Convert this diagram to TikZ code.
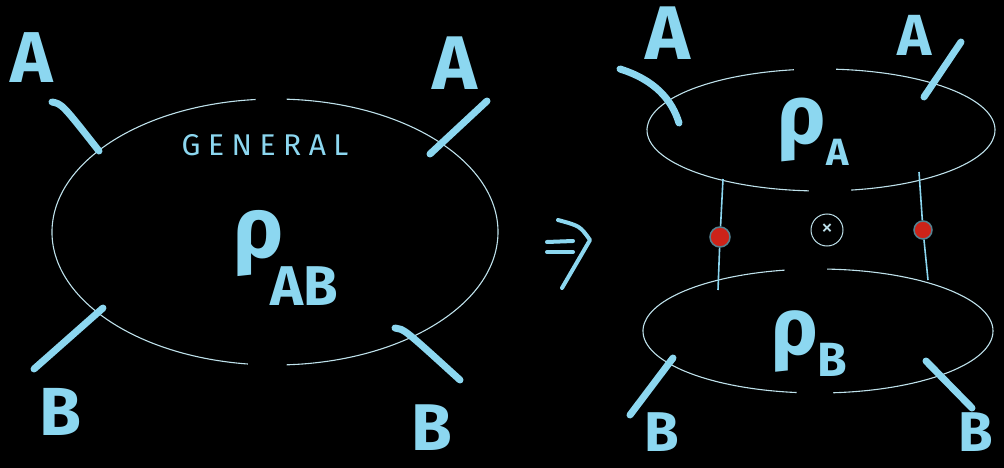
\documentclass[tikz,border=0pt]{standalone}
\usepackage{fontspec}
\setmainfont{Fira Sans}
\definecolor{sky}{RGB}{140,215,240}
\definecolor{rim}{RGB}{190,225,235}
\definecolor{dotred}{RGB}{205,35,25}
\tikzset{
  hand/.style={text=sky, inner sep=0pt, font=\bfseries\fontsize{#1}{#1}\selectfont},
  leg/.style={draw=sky, line width=7pt, line cap=round},
  rimline/.style={draw=rim, line width=1.1pt},
  reddot/.style={circle, fill=dotred, draw=sky!60!black, line width=1.5pt, minimum size=20pt, inner sep=0pt},
}
\begin{document}
\begin{tikzpicture}[x=1pt,y=-1pt]
        \fill[black] (0,0) rectangle (1004,468);

        % General state
        \coordinate (gen) at (275,232);
        \draw[rimline] (gen) ++(273:223 and 133) arc[start angle=273, end angle=447, x radius=223, y radius=133];
        \draw[rimline] (gen) ++(97:223 and 133) arc[start angle=97, end angle=265, x radius=223, y radius=133];
        \node[text=sky, inner sep=0pt, font=\fontsize{30}{30}\selectfont\addfontfeatures{LetterSpace=25}] (general) at (265,145) {GENERAL};
        \node[hand=86] (rhoAB) at (259,243) {ρ};
        \node[hand=56] (subAB) at (304,286) {AB};

        \draw[leg] (52,102) .. controls (62,104) .. (99,151);
        \draw[leg] (487,101) -- (430,154);
        \draw[leg] (103,308) -- (34,369);
        \draw[leg] (395,328) .. controls (404,329) .. (460,380);
        \node[hand=72] (a1) at (32,58) {A};
        \node[hand=76] (a2) at (455,63) {A};
        \node[hand=68] (b1) at (60,412) {B};
        \node[hand=66] (b2) at (432,428) {B};

        % implies
        \draw[draw=sky, line width=4pt, line cap=round] (547,242) -- (573,241);
        \draw[draw=sky, line width=4pt, line cap=round] (547,252) -- (573,252);
        \draw[draw=sky, line width=4pt, line cap=round, line join=round] (558,220) .. controls (580,226) .. (590,240) -- (562,288);

        % Product state
        \coordinate (top) at (821,130);
        \coordinate (bot) at (818,331);
        \draw[rimline] (top) ++(275:174 and 61) arc[start angle=275, end angle=440, x radius=174, y radius=61];
        \draw[rimline] (top) ++(94:174 and 61) arc[start angle=94, end angle=261, x radius=174, y radius=61];
        \draw[rimline] (bot) ++(273:175 and 62) arc[start angle=273, end angle=445, x radius=175, y radius=62];
        \draw[rimline] (bot) ++(97:175 and 62) arc[start angle=97, end angle=259, x radius=175, y radius=62];
        \node[hand=83] (rhoA) at (802,130) {ρ};
        \node[hand=38] (subA) at (838,152) {A};
        \node[hand=80] (rhoB) at (795,341) {ρ};
        \node[hand=48] (subB) at (832,360) {B};

        \coordinate (l1) at (723,179);
        \coordinate (l2) at (718,290);
        \coordinate (r1) at (919,172);
        \coordinate (r2) at (928,280);
        \node[reddot] (dl) at (720,237) {};
        \node[reddot, minimum size=18pt] (dr) at (923,230) {};
        \draw[draw=sky, line width=1.6pt] (l1) -- (dl) -- (l2);
        \draw[draw=sky, line width=1.6pt] (r1) -- (dr) -- (r2);
        \node[circle, draw=rim, line width=1pt, minimum size=32pt, inner sep=0pt, text=rim, font=\fontsize{24}{24}\selectfont] (otimes) at (827,230) {×};

        \draw[leg] (620,69) .. controls (655,80) and (672,100) .. (679,123);
        \draw[leg] (961,42) -- (924,97);
        \draw[leg] (673,358) -- (630,415);
        \draw[leg] (926,361) -- (972,408);
        \node[hand=76] (a3) at (668,33) {A};
        \node[hand=58] (a4) at (915,35) {A};
        \node[hand=56] (b3) at (662,432) {B};
        \node[hand=56] (b4) at (976,432) {B};
\end{tikzpicture}
\end{document}
